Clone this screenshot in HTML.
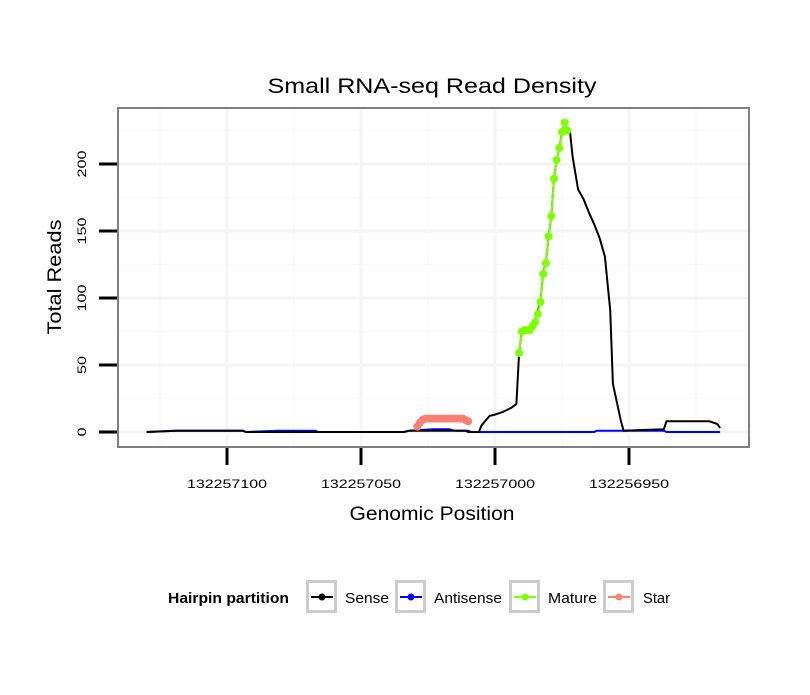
<!DOCTYPE html>
<html><head><meta charset="utf-8"><style>
body{margin:0;background:#fff;width:810px;height:690px;overflow:hidden}
svg{font-family:"Liberation Sans",sans-serif}
</style></head><body>
<svg id="chart" width="810" height="690">
<rect width="810" height="690" fill="#fff"/>
<text x="432" y="93" font-size="21" text-anchor="middle" textLength="329" lengthAdjust="spacingAndGlyphs">Small RNA-seq Read Density</text>
<rect x="118" y="108" width="631" height="339" fill="#fff"/>
<g id="grid"></g>
<g id="series"></g>
<rect x="118" y="108" width="631" height="339" fill="none" stroke="#808080" stroke-width="2"/>
<g id="axes"></g>
<text transform="translate(61,277) rotate(-90)" font-size="19" text-anchor="middle" textLength="115" lengthAdjust="spacingAndGlyphs">Total Reads</text>
<text x="432" y="520" font-size="19" text-anchor="middle" textLength="165" lengthAdjust="spacingAndGlyphs">Genomic Position</text>
<g>
<text x="168" y="603" font-size="15" font-weight="bold" textLength="121" lengthAdjust="spacingAndGlyphs">Hairpin partition</text>
<g id="legend"></g>
</g>
</svg>
<script>
const BASE = 132257000;
const xTicks = [132257100, 132257050, 132257000, 132256950];
const yTicks = [0, 50, 100, 150, 200];
const senseOff = [130,119,94,93,34,32,11,10,6,5,2,0,-3,-6,-8,-9,-10,-13,-15,-17,-18,-19,-20,-21,-22,-23,-24,-25,-26,-27,-28,-29,-31,-33,-35,-37,-39,-41,-43,-44,-47,-48,-63,-64,-80,-83,-84];
const senseVal = [0,1,1,0,0,1,1,0,0,5,12,13,15,18,21,59,75,75,82,98,119,126,146,161,189,203,212,224,231,225,224,205,181,174,164,155,145,131,91,36,8,1,2,8,8,6,3];
const antiOff = [130,119,94,93,81,67,66,34,32,23,17,15,10,9,-37,-38,-63,-64,-84];
const antiVal = [0,1,1,0,1,1,0,0,1,2,2,1,1,0,0,1,1,0,0];
const matureOff = [-9,-10,-11,-12,-13,-14,-15,-16,-17,-18,-19,-20,-21,-22,-23,-24,-25,-26,-27];
const matureVal = [59,75,76,76,76,79,82,88,97,118,126,146,161,189,203,212,224,231,225];
const starOff = [29,28,27,26,25,24,23,22,21,20,19,18,17,16,15,14,13,12,11,10];
const starVal = [4,7,9,10,10,10,10,10,10,10,10,10,10,10,10,10,10,10,9,8];

const sx = p => 495 + (BASE - p) * 2.68;
const sy = v => 432 - v * 1.34;
const NS = "http://www.w3.org/2000/svg";
function mk(tag, attrs, parent){const e=document.createElementNS(NS,tag);for(const k in attrs)e.setAttribute(k,attrs[k]);parent.appendChild(e);return e;}
const grid=document.getElementById('grid'), series=document.getElementById('series'), axes=document.getElementById('axes'), legend=document.getElementById('legend');

const minorX=[132257125,132257075,132257025,132256975,132256925];
minorX.forEach(p=>{const l=mk('line',{x1:sx(p),x2:sx(p),y1:109,y2:446,stroke:'#fafafa','stroke-width':1.5},grid);

});
[25,75,125,175,225].forEach(v=>{const l=mk('line',{x1:119,x2:748,y1:sy(v),y2:sy(v),stroke:'#fafafa','stroke-width':1.5},grid);

});
xTicks.forEach(p=>{const l=mk('line',{x1:sx(p),x2:sx(p),y1:109,y2:446,stroke:'#f5f5f5','stroke-width':3},grid);

});
yTicks.forEach(v=>{const l=mk('line',{x1:119,x2:748,y1:sy(v),y2:sy(v),stroke:'#f5f5f5','stroke-width':3},grid);

});

xTicks.forEach(p=>{const t=mk('line',{x1:sx(p),x2:sx(p),y1:448,y2:465,stroke:'#000','stroke-width':3},axes);


const tx=mk('text',{x:sx(p),y:488,'font-size':12,'text-anchor':'middle',textLength:80,lengthAdjust:'spacingAndGlyphs'},axes);tx.textContent=p;

});
yTicks.forEach(v=>{const t=mk('line',{x1:99,x2:117,y1:sy(v),y2:sy(v),stroke:'#000','stroke-width':3},axes);


const s=String(v);
const tx=mk('text',{transform:`translate(86,${sy(v)}) rotate(-90)`,'font-size':12,'text-anchor':'middle',textLength:s.length*9,lengthAdjust:'spacingAndGlyphs'},axes);tx.textContent=s;

});

function line(off,val,color,name,w){
  const d=off.map((o,i)=>(i?'L':'M')+sx(BASE+o).toFixed(1)+','+sy(val[i]).toFixed(1)).join('');
  const p=mk('path',{d:d,fill:'none',stroke:color,'stroke-width':w,'stroke-linejoin':'round'},series);
  
  
}
function pts(off,val,color,name){
  off.forEach((o,i)=>{const c=mk('circle',{cx:sx(BASE+o),cy:sy(val[i]),r:4,fill:color},series);
  
  });
}
line(antiOff,antiVal,'#0000ff','antisense-line',2);
line(senseOff,senseVal,'#000','sense-line',2);
line(starOff,starVal,'#fa8072','star-line',2);
pts(starOff,starVal,'#fa8072','star-point');
line(matureOff,matureVal,'#7fff00','mature-line',2);
pts(matureOff,matureVal,'#7fff00','mature-point');

const legItems=[['Sense','#000',306,345,44],['Antisense','#0000ff',395,434,68],['Mature','#7fff00',509,548,49],['Star','#fa8072',603,643,27]];
legItems.forEach(([lab,col,bx,tx,tl])=>{
  const g=mk('g',{},legend);
  
  
  mk('rect',{x:bx+1.5,y:581.5,width:28,height:30,fill:'#fff',stroke:'#cccccc','stroke-width':3},g);
  mk('line',{x1:bx+5,x2:bx+27,y1:597,y2:597,stroke:col,'stroke-width':2},g);
  mk('circle',{cx:bx+16,cy:597,r:3.5,fill:col},g);
  const t=mk('text',{x:tx,y:603,'font-size':15,textLength:tl,lengthAdjust:'spacingAndGlyphs'},g);t.textContent=lab;
});
</script>
</body></html>
